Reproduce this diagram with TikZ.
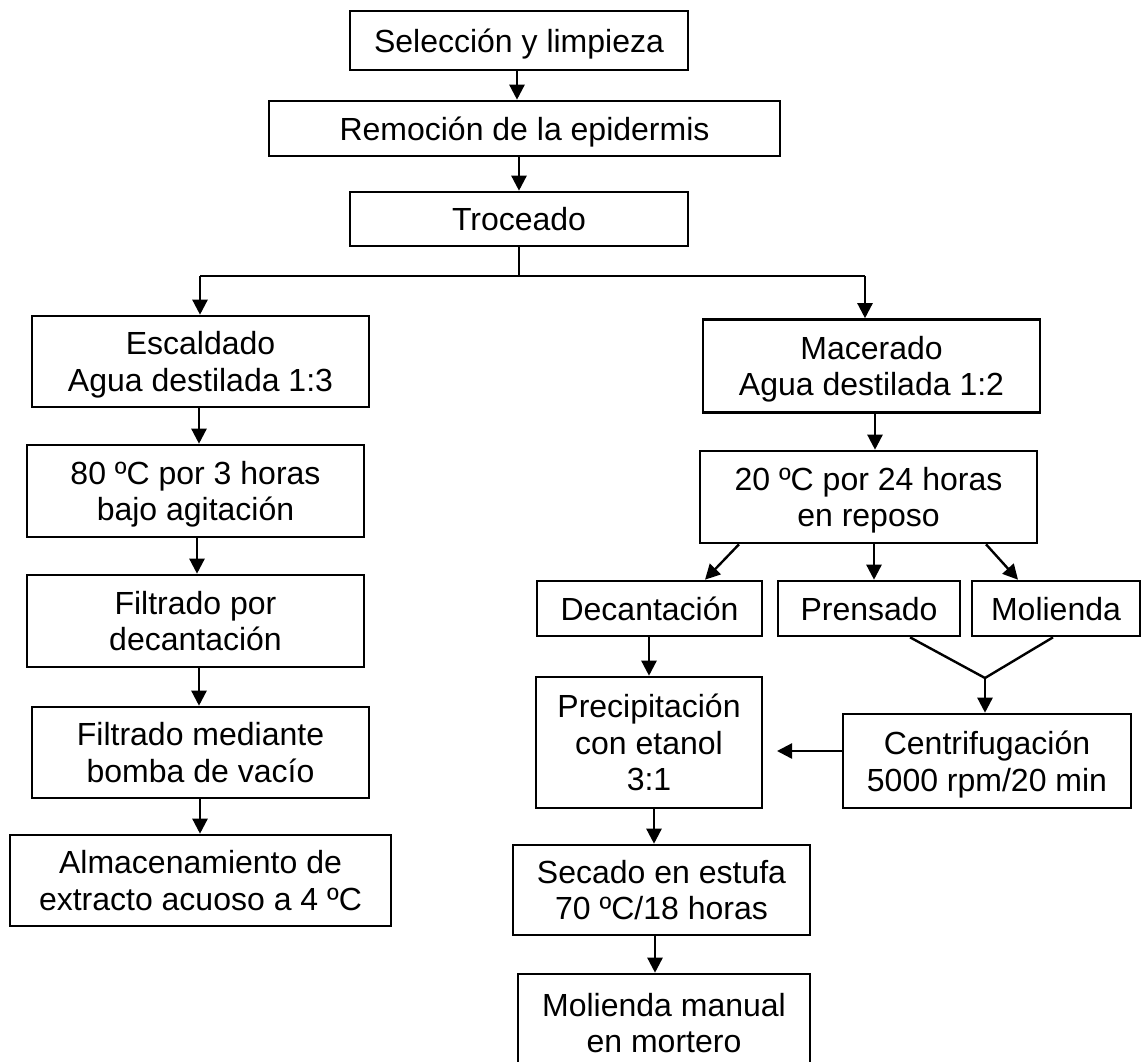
\documentclass[tikz,border=0pt]{standalone}
\usepackage{fontspec}
\setmainfont{Liberation Sans}
\usetikzlibrary{arrows.meta}
\begin{document}
\begin{tikzpicture}[x=1pt,y=-1pt,
  box/.style={draw=black, line width=2.6pt, inner sep=0pt, align=center,
    text depth=0pt, font=\fontsize{32}{36.5}\selectfont},
  arr/.style={line width=2.4pt, -{Triangle[length=15pt,width=15pt]}},
  ln/.style={line width=2.4pt}]
\useasboundingbox (0,0) rectangle (1145,1061);
\clip (0,0) rectangle (1145,1061);
\fill[white] (0,0) rectangle (1145,1061);
% top chain
\node[box, minimum width=338pt, minimum height=59pt] (sel) at (519,40.5) {Selección y limpieza};
\node[box, minimum width=511pt, minimum height=55pt] (rem) at (524.5,128.5) {Remoción de la epidermis};
\node[box, minimum width=338pt, minimum height=54pt] (tro) at (519,219) {Troceado};
% left column
\node[box, minimum width=337pt, minimum height=91pt] (esc) at (200.5,361.5) {Escaldado\\Agua destilada 1:3};
\node[box, minimum width=337pt, minimum height=92pt] (t80) at (195.5,491) {80 ºC por 3 horas\\bajo agitación};
\node[box, minimum width=337pt, minimum height=92pt] (fpd) at (195.5,621) {Filtrado por\\decantación};
\node[box, minimum width=337pt, minimum height=91pt] (fmb) at (200.5,752.5) {Filtrado mediante\\bomba de vacío};
\node[box, minimum width=381pt, minimum height=91pt] (alm) at (200.5,880.5) {Almacenamiento de\\extracto acuoso a 4 ºC};
% right column
\node[box, minimum width=337pt, minimum height=93pt] (mac) at (871.5,366) {Macerado\\Agua destilada 1:2};
\node[box, minimum width=337pt, minimum height=92pt] (t20) at (868.5,497) {20 ºC por 24 horas\\en reposo};
\node[box, minimum width=225pt, minimum height=55pt] (dec) at (649.5,608.5) {Decantación};
\node[box, minimum width=182pt, minimum height=55pt] (pre) at (869,608.5) {Prensado};
\node[box, minimum width=168pt, minimum height=55pt] (mol) at (1056,608.5) {Molienda};
\node[box, minimum width=226pt, minimum height=131pt] (ppt) at (649,742.5) {Precipitación\\con etanol\\3:1};
\node[box, minimum width=288pt, minimum height=94pt] (cen) at (987,761) {Centrifugación\\5000 rpm/20 min};
\node[box, minimum width=297pt, minimum height=90pt] (sec) at (661.5,890) {Secado en estufa\\70 ºC/18 horas};
\node[box, minimum width=292pt, minimum height=98pt] (mmm) at (664,1023) {Molienda manual\\en mortero};
% connectors top
\draw[arr] (517,0 |- sel.south) -- (517,0 |- rem.north);
\draw[arr] (tro.north |- rem.south) -- (tro.north);
\coordinate (jL) at (200,276);
\coordinate (jR) at (865,276);
\draw[ln] (tro.south) -- (tro.south |- jL);
\draw[ln] (jL) -- (jR);
\draw[arr] (jL) -- (jL |- esc.north);
\draw[arr] (jR) -- (jR |- mac.north);
% left connectors
\draw[arr] (199,0 |- esc.south) -- (199,0 |- t80.north);
\draw[arr] (197,0 |- t80.south) -- (197,0 |- fpd.north);
\draw[arr] (199,0 |- fpd.south) -- (199,0 |- fmb.north);
\draw[arr] (200,0 |- fmb.south) -- (200,0 |- alm.north);
% right connectors
\draw[arr] (875,0 |- mac.south) -- (875,0 |- t20.north);
\draw[arr] (739,0 |- t20.south) -- (705,0 |- dec.north);
\draw[arr] (874,0 |- t20.south) -- (874,0 |- pre.north);
\draw[arr] (986,0 |- t20.south) -- (1018,0 |- mol.north);
\coordinate (jm) at (985,678);
\draw[ln] (910,0 |- pre.south) -- (jm);
\draw[ln] (1053,0 |- mol.south) -- (jm);
\draw[arr] (jm) -- (jm |- cen.north);
\draw[arr] (649,0 |- dec.south) -- (649,0 |- ppt.north);
\coordinate (cin) at (777,751);
\draw[arr] (cen.west |- cin) -- (cin);
\draw[arr] (654,0 |- ppt.south) -- (654,0 |- sec.north);
\draw[arr] (655,0 |- sec.south) -- (655,0 |- mmm.north);
\end{tikzpicture}
\end{document}
